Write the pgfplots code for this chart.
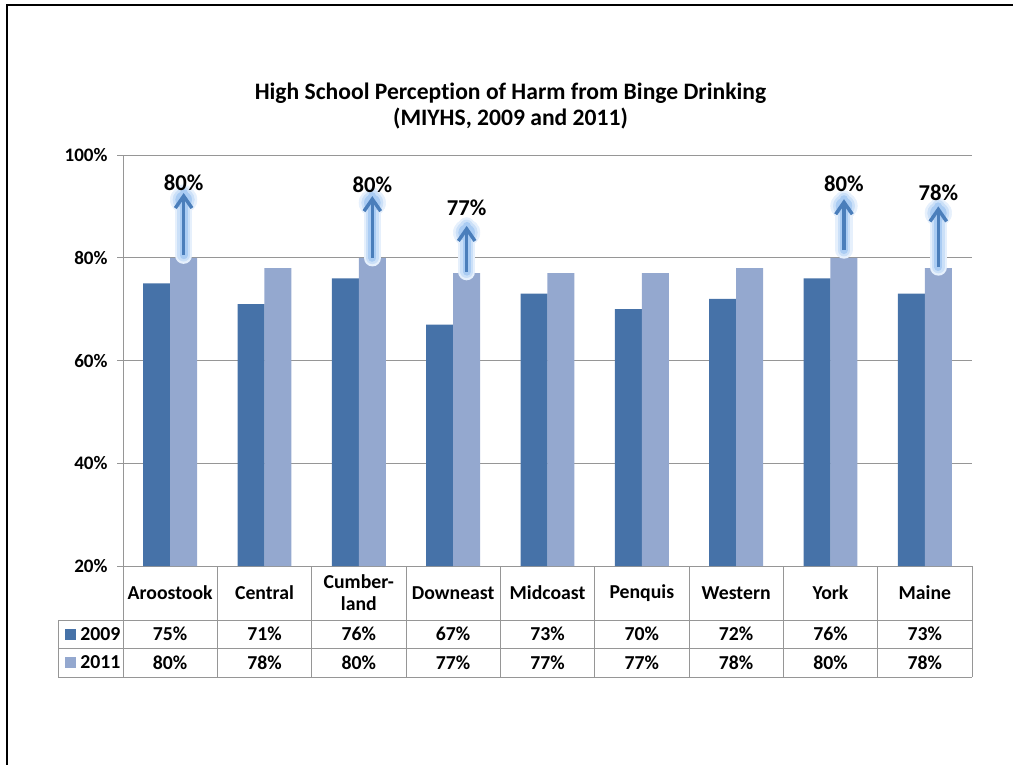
\documentclass[border=0pt]{standalone}
\usepackage{pgfplots}
\pgfplotsset{compat=1.18}
\usepackage{pgfplotstable}
\usepackage{fontspec}
\setmainfont{Carlito}[Ligatures={NoCommon}]
\usetikzlibrary{arrows.meta}

\definecolor{bar09}{RGB}{70,114,168}
\definecolor{bar11}{RGB}{148,168,207}
\definecolor{arrowblue}{RGB}{74,126,187}
\definecolor{glowA}{RGB}{230,240,252}
\definecolor{glowB}{RGB}{203,224,248}
\definecolor{glowC}{RGB}{170,204,243}
\definecolor{rulegray}{RGB}{150,150,150}

% share of high school students who see binge drinking as harmful (%)
\pgfplotstableread{
x a b
0 75 80
1 71 78
2 76 80
3 67 77
4 73 77
5 70 77
6 72 78
7 76 80
8 73 78
}\regions

% regions with a marked rise: 2011 value, arrow start, arrow end, label height
\pgfplotstableread{
x val base top lab
0 80 80.5 92.6 94.6
2 80 80.0 92.0 94.2
3 77 77.3 86.2 89.7
7 80 81.5 91.4 94.4
8 78 78.2 90.0 92.7
}\gains

\newcommand{\tabfont}{\bfseries\fontsize{14.8}{16.5}\selectfont}
\newcommand{\tickfont}{\bfseries\fontsize{14.3}{16}\selectfont}

\pgfplotsset{
  /pgf/number format/assume math mode=true,
  shaft/.style={line cap=round, quiver={u=0, v=\thisrow{top}-\thisrow{base}}},
  halo/.style={only marks, mark=*, mark size=#1, mark options={draw=none}},
  pctnodes/.style={draw=none, point meta=explicit,
    nodes near coords={\pgfmathprintnumber{\pgfplotspointmeta}\%},
    nodes near coords align={anchor=center},
    every node near coord/.append style={anchor=center, text=black, font=#1}},
}

\begin{document}
\begin{tikzpicture}
\begin{scope}[x=0.75pt,y=-0.75pt]
  \useasboundingbox (0,0) rectangle (1013,764);
  \draw[line width=2.2pt] (7,766) -- (7,5) -- (1015,5);
  \node[font=\bfseries\fontsize{17.7}{20}\selectfont, align=center] at (510.5,106)
    {High School Perception of Harm from Binge Drinking\\(MIYHS, 2009 and 2011)};
  \coordinate (plotSW) at (123,566);
  \coordinate (tableSW) at (123,677);
\end{scope}

\begin{axis}[
  at={(plotSW)}, anchor=south west,
  scale only axis, width=636.75pt, height=308.25pt,
  xmin=-0.5, xmax=8.5, ymin=20, ymax=100,
  axis line style={draw=none},
  clip mode=individual,
  ytick={20,40,60,80,100},
  yticklabel={\pgfmathprintnumber{\tick}\%},
  ymajorgrids, grid style={rulegray, line width=0.75pt},
  ytick pos=left, tick align=outside, major tick length=4.5pt,
  y tick style={rulegray, line width=0.75pt},
  yticklabel style={font=\tickfont, xshift=-3.6pt},
  xtick={0,...,8},
  xticklabels={Aroostook,Central,{Cumber-\\land},Downeast,Midcoast,Penquis,Western,York,Maine},
  x tick style={draw=none},
  xticklabel style={font=\tabfont, align=center, anchor=center, yshift=-15.75pt},
]
  % bars
  \addplot[ybar, bar width=20.25pt, bar shift=-10.1pt, fill=bar09, draw=none]
    table[x=x, y=a]{\regions};
  \addplot[ybar, bar width=20.25pt, bar shift=10.1pt, fill=bar11, draw=none]
    table[x=x, y=b]{\regions};

  % soft halo behind the arrows, widest and palest first
  \addplot[shaft, glowA, line width=13pt]
    table[x expr=\thisrow{x}+0.143, y=base]{\gains};
  \addplot[halo=10pt, glowA]
    table[x expr=\thisrow{x}+0.143, y expr=\thisrow{top}-1.3]{\gains};
  \addplot[shaft, glowB, line width=9.5pt]
    table[x expr=\thisrow{x}+0.143, y=base]{\gains};
  \addplot[halo=8pt, glowB]
    table[x expr=\thisrow{x}+0.143, y expr=\thisrow{top}-1.3]{\gains};
  \addplot[shaft, glowC, line width=6pt]
    table[x expr=\thisrow{x}+0.143, y=base]{\gains};
  \addplot[halo=6pt, glowC]
    table[x expr=\thisrow{x}+0.143, y expr=\thisrow{top}-1.3]{\gains};
  % arrows
  \addplot[shaft, arrowblue, line width=2.6pt, line cap=butt, line join=round,
    -{Straight Barb[length=9pt,width=12.5pt]}]
    table[x expr=\thisrow{x}+0.143, y=base]{\gains};
  % values above the arrows
  \addplot[pctnodes={\bfseries\fontsize{17}{19}\selectfont}]
    table[x expr=\thisrow{x}+0.143, y=lab, meta=val]{\gains};
\end{axis}

% value rows of the data table
\begin{axis}[
  at={(tableSW)}, anchor=south west,
  scale only axis, width=636.75pt, height=42.75pt,
  xmin=-0.5, xmax=8.5, ymin=0, ymax=2,
  hide axis, clip=false,
]
  \addplot[pctnodes=\tabfont] table[x=x, y expr=1.5, meta=a]{\regions};
  \addplot[pctnodes=\tabfont] table[x=x, y expr=0.5, meta=b]{\regions};
\end{axis}

% table grid and series keys
\begin{scope}[x=0.75pt,y=-0.75pt]
  \begin{scope}[rulegray, line width=0.75pt]
    \draw (123,155) -- (123,677);
    \draw (58,620) -- (972,620);
    \draw (58,648) -- (972,648);
    \draw (58,677) -- (972,677);
    \draw (58,620) -- (58,677);
    \foreach \k in {1,...,9}
      \draw ({123+\k*94.333},566) -- ({123+\k*94.333},677);
  \end{scope}
  \fill[bar09] (65,629) rectangle (76,640);
  \node[anchor=west, inner sep=0pt, font=\tabfont] at (80,634.5) {2009};
  \fill[bar11] (65,657) rectangle (76,668);
  \node[anchor=west, inner sep=0pt, font=\tabfont] at (80,662.5) {2011};
\end{scope}
\end{tikzpicture}
\end{document}
